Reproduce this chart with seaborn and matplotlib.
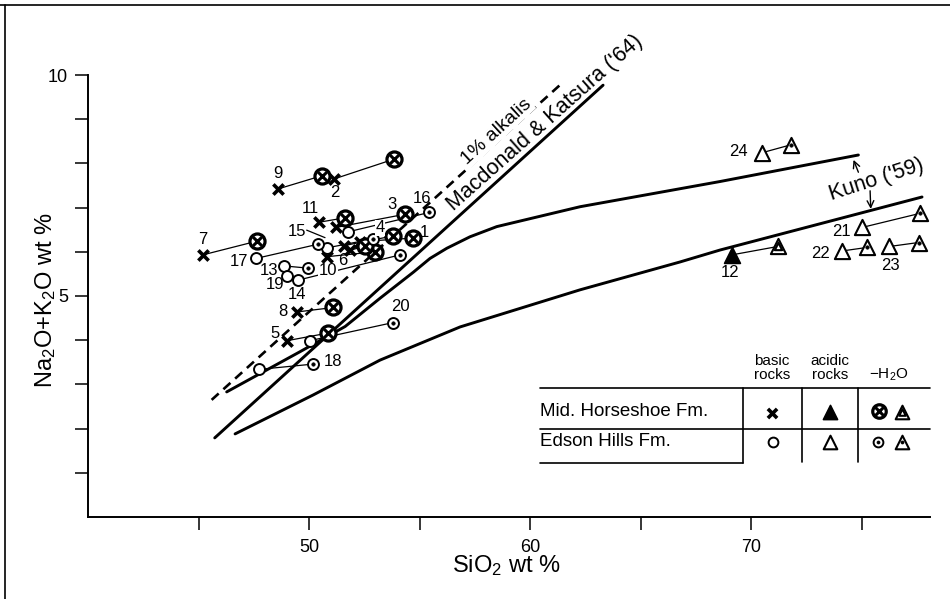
import numpy as np
import pandas as pd
import matplotlib
matplotlib.use("Agg")
import matplotlib.pyplot as plt
import seaborn as sns
from matplotlib.lines import Line2D

# ---------------- data ----------------
sample_id = list(range(1, 25))
formation = ["MH"] * 12 + ["EH"] * 12
rock = ["basic"] * 11 + ["acidic"] + ["basic"] * 8 + ["acidic"] * 4

fresh_sio2 = [52.29, 51.13, 51.19, 51.57, 49.00, 50.81, 45.18, 49.46, 48.57, 51.84, 50.45, 69.11,
              48.87, 49.50, 50.81, 51.74, 47.59, 47.74, 49.00, 50.03, 75.00, 74.12, 76.24, 70.47]
fresh_alk = [6.23, 7.65, 6.55, 6.14, 3.99, 5.89, 5.93, 4.64, 7.42, 6.04, 6.67, 5.93,
             5.68, 5.36, 6.09, 6.45, 5.85, 3.34, 5.45, 3.99, 6.55, 6.02, 6.12, 8.24]
h2o_sio2 = [54.68, 53.85, 54.33, 53.80, 50.83, 52.97, 47.62, 51.09, 50.56, 52.52, 51.63, 71.19,
            49.95, 54.10, 52.87, 55.42, 50.38, 50.18, np.nan, 53.80, 77.63, 75.25, 77.56, 71.78]
h2o_alk = [6.31, 8.10, 6.85, 6.36, 4.16, 6.00, 6.24, 4.74, 7.72, 6.12, 6.77, 6.12,
           5.63, 5.93, 6.29, 6.89, 6.17, 3.46, np.nan, 4.40, 6.87, 6.10, 6.21, 8.42]
label_sio2 = [55.19, 51.16, 53.73, 53.20, 48.45, 51.51, 45.18, 48.80, 48.57, 50.86, 50.03, 69.04,
              48.18, 49.46, 49.43, 55.11, 46.83, 51.06, 48.45, 54.10, 74.06, 73.11, 76.28, 69.41]
label_alk = [6.44, 7.34, 7.06, 6.54, 4.16, 5.81, 6.27, 4.64, 7.78, 5.57, 6.98, 5.53,
             5.57, 5.04, 6.47, 7.21, 5.78, 3.51, 5.25, 4.76, 6.45, 5.97, 5.70, 8.26]

# reference curves
kuno_low_sio2 = [46.64, 50.17, 53.20, 56.82, 62.25, 66.77, 68.58, 77.72]
kuno_low_alk = [1.88, 2.76, 3.55, 4.30, 5.14, 5.77, 6.04, 7.24]
kuno_up_sio2 = [46.26, 49.58, 51.62, 53.20, 54.71, 55.46, 56.22, 57.27, 58.48, 62.25, 68.58, 74.84]
kuno_up_alk = [2.83, 3.74, 4.31, 4.95, 5.54, 5.85, 6.08, 6.34, 6.57, 7.02, 7.59, 8.19]
mk_sio2 = [45.72, 63.29]
mk_alk = [1.79, 9.77]
alk1_sio2 = [45.58, 61.42]
alk1_alk = [2.65, 9.81]
leader15_sio2 = [49.88, 50.71]
leader15_alk = [6.49, 6.32]

x_ticks = [45, 50, 55, 60, 65, 70, 75]
x_ticklabels = ["", "50", "", "60", "", "70", ""]
y_ticks = [1, 2, 3, 4, 5, 6, 7, 8, 9, 10]
y_ticklabels = ["", "", "", "", "5", "", "", "", "", "10"]

# ---------------- style ----------------
sns.set_theme(style="white")
plt.rcParams["font.family"] = ["Liberation Sans", "DejaVu Sans"]
plt.rcParams["mathtext.fontset"] = "custom"
plt.rcParams["mathtext.rm"] = "Liberation Sans"
plt.rcParams["mathtext.it"] = "Liberation Sans:italic"
plt.rcParams["mathtext.bf"] = "Liberation Sans:bold"
plt.rcParams["text.color"] = "black"

W, H = 950, 599
fig = plt.figure(figsize=(9.5, 5.99), dpi=100)
ax = fig.add_axes([88.3 / W, 1 - 517 / H, (930 - 88.3) / W, (517 - 75) / H])
ax.set_xlim(40, 78.08)
ax.set_ylim(0, 10)

def P(x, y):
    return (x / W, 1 - y / H)

# marker layer styles
T_BASE = dict(marker="^", s=120, color="white", edgecolor="black", linewidth=1.5)
STYLES = {
    "x": [dict(marker="x", s=55, color="black", linewidth=2.6)],
    "ox": [dict(marker="o", s=118, color="white", edgecolor="black", linewidth=2.3),
           dict(marker="x", s=40, color="black", linewidth=2.2)],
    "o": [dict(marker="o", s=62, color="white", edgecolor="black", linewidth=1.4)],
    "od": [dict(marker="o", s=62, color="white", edgecolor="black", linewidth=1.4),
           dict(marker="o", s=6, color="black", edgecolor="black", linewidth=0.5)],
    "tf": [dict(marker="^", s=130, color="black", edgecolor="black", linewidth=1.2)],
    "t": [T_BASE],
    "tt": [T_BASE, dict(marker="^", s=28, color="white", edgecolor="black", linewidth=1.5)],
    "td": [T_BASE, dict(marker="o", s=6, color="black", edgecolor="black", linewidth=0.5)],
}

df = pd.DataFrame(dict(sample=sample_id, formation=formation, rock=rock,
                       fx=fresh_sio2, fy=fresh_alk, hx=h2o_sio2, hy=h2o_alk,
                       lx=label_sio2, ly=label_alk))

# ---------------- curves ----------------
lw_c = 2.1
sns.lineplot(x=kuno_low_sio2, y=kuno_low_alk, sort=False, estimator=None, color="black", lw=lw_c, ax=ax, zorder=1.5)
sns.lineplot(x=kuno_up_sio2, y=kuno_up_alk, sort=False, estimator=None, color="black", lw=lw_c, ax=ax, zorder=1.5)
sns.lineplot(x=mk_sio2, y=mk_alk, sort=False, estimator=None, color="black", lw=lw_c, ax=ax, zorder=1.5)
sns.lineplot(x=alk1_sio2, y=alk1_alk, sort=False, estimator=None, color="black", lw=1.9,
             linestyle=(0, (3.6, 2.4)), ax=ax, zorder=1.5)

# ---------------- tie lines ----------------
pairs = df.dropna(subset=["hx"])
long = pd.concat([
    pd.DataFrame(dict(sample=pairs["sample"], sio2=pairs["fx"], alk=pairs["fy"], order=0)),
    pd.DataFrame(dict(sample=pairs["sample"], sio2=pairs["hx"], alk=pairs["hy"], order=1)),
]).sort_values(["sample", "order"])
sns.lineplot(data=long, x="sio2", y="alk", units="sample", estimator=None, sort=False,
             color="black", lw=0.9, ax=ax, zorder=2)
sns.lineplot(x=leader15_sio2, y=leader15_alk, sort=False, estimator=None, color="black", lw=0.9, ax=ax, zorder=2)

# ---------------- markers ----------------
def draw(xs, ys, kind, z=4):
    for i, layer in enumerate(STYLES[kind]):
        sns.scatterplot(x=list(xs), y=list(ys), ax=ax, zorder=z + i * 0.1, legend=False, **layer)

kinds = {("MH", "basic"): ("x", "ox"), ("MH", "acidic"): ("tf", "tt"),
         ("EH", "basic"): ("o", "od"), ("EH", "acidic"): ("t", "td")}
for (fm, rk), (kf, kh) in kinds.items():
    sub = df[(df.formation == fm) & (df.rock == rk)]
    draw(sub.fx, sub.fy, kf, z=4)
    s2 = sub.dropna(subset=["hx"])
    draw(s2.hx, s2.hy, kh, z=4.5)

for _, r in df.iterrows():
    kw = {}
    if r["sample"] in (4, 10):
        kw["bbox"] = dict(facecolor="white", edgecolor="none", pad=0.5)
    ax.text(r.lx, r.ly, str(int(r["sample"])), ha="center", va="center", fontsize=12, zorder=6, **kw)

# curve labels
ax.text(58.45, 8.72, "1% alkalis", rotation=42.5, rotation_mode="anchor", ha="center", va="center",
        fontsize=14, zorder=6, clip_on=False, bbox=dict(facecolor="white", edgecolor="none", pad=1.0))
ax.text(60.66, 8.91, "Macdonald & Katsura ('64)", rotation=41.6, rotation_mode="anchor", ha="center",
        va="center", fontsize=15.5, zorder=6, clip_on=False)
ax.text(75.68, 7.62, "Kuno ('59)", rotation=18, rotation_mode="anchor", ha="center", va="center",
        fontsize=15.5, zorder=6, clip_on=False)
ax.annotate("", xy=(74.62, 8.08), xytext=(74.84, 7.80),
            arrowprops=dict(arrowstyle="->", lw=1.0, color="black", shrinkA=0, shrinkB=0))
ax.annotate("", xy=(75.40, 6.97), xytext=(75.37, 7.38),
            arrowprops=dict(arrowstyle="->", lw=1.0, color="black", shrinkA=0, shrinkB=0))

# ---------------- axes ----------------
ax.set_xticks(x_ticks)
ax.set_xticklabels(x_ticklabels)
ax.set_yticks(y_ticks)
ax.set_yticklabels(y_ticklabels)
ax.tick_params(axis="both", direction="out", length=9.5, width=1.1, labelsize=13, colors="black",
               bottom=True, left=True)
ax.tick_params(axis="x", pad=6)
ax.tick_params(axis="y", pad=5)
for s in ("top", "right"):
    ax.spines[s].set_visible(False)
for s in ("left", "bottom"):
    ax.spines[s].set_color("black")
    ax.spines[s].set_linewidth(1.4)
ax.set_xlabel("")
ax.set_ylabel("")
ax.grid(False)

fig.text(*P(506, 566), r"SiO$_2$ wt %", ha="center", va="center", fontsize=17)
fig.text(*P(46, 300), r"Na$_2$O+K$_2$O wt %", ha="center", va="center", rotation=90, fontsize=17)

# ---------------- legend table ----------------
def fline(x0, y0, x1, y1, lw=1.2):
    fig.add_artist(Line2D([x0 / W, x1 / W], [1 - y0 / H, 1 - y1 / H], color="black", lw=lw))

fline(540, 388.3, 930, 388.3)
fline(540, 429.3, 930, 429.3)
fline(540, 463.3, 743.3, 463.3)
fline(743.3, 388.3, 743.3, 463.3)
fline(801.7, 388.3, 801.7, 462)
fline(858.3, 388.3, 858.3, 462)

fig.text(*P(772, 368), "basic\nrocks", ha="center", va="center", fontsize=11, linespacing=1.05)
fig.text(*P(830, 368), "acidic\nrocks", ha="center", va="center", fontsize=11, linespacing=1.05)
fig.text(*P(889, 375), r"$-$H$_2$O", ha="center", va="center", fontsize=11)
fig.text(*P(540, 411.7), "Mid. Horseshoe Fm.", ha="left", va="center", fontsize=13.5)
fig.text(*P(540, 441.7), "Edson Hills Fm.", ha="left", va="center", fontsize=13.5)

legend_items = [("x", 771.7, 412.7), ("tf", 830, 411.7), ("ox", 879, 411), ("tt", 902, 412),
                ("o", 772.7, 441.7), ("t", 830, 441.7), ("od", 878.3, 441.7), ("td", 902, 442)]
for kind, px_, py_ in legend_items:
    for i, layer in enumerate(STYLES[kind]):
        lay = dict(layer)
        lay["s"] = lay["s"] * 0.8
        ax.scatter([px_ / W], [1 - py_ / H], transform=fig.transFigure, clip_on=False,
                   zorder=7 + i * 0.1, **lay)

# page border (scan frame)
fline(0, 4.5, 950, 4.5, lw=1.2)
fline(5, 4.5, 5, 599, lw=1.2)

fig.savefig("out.png", dpi=100)
